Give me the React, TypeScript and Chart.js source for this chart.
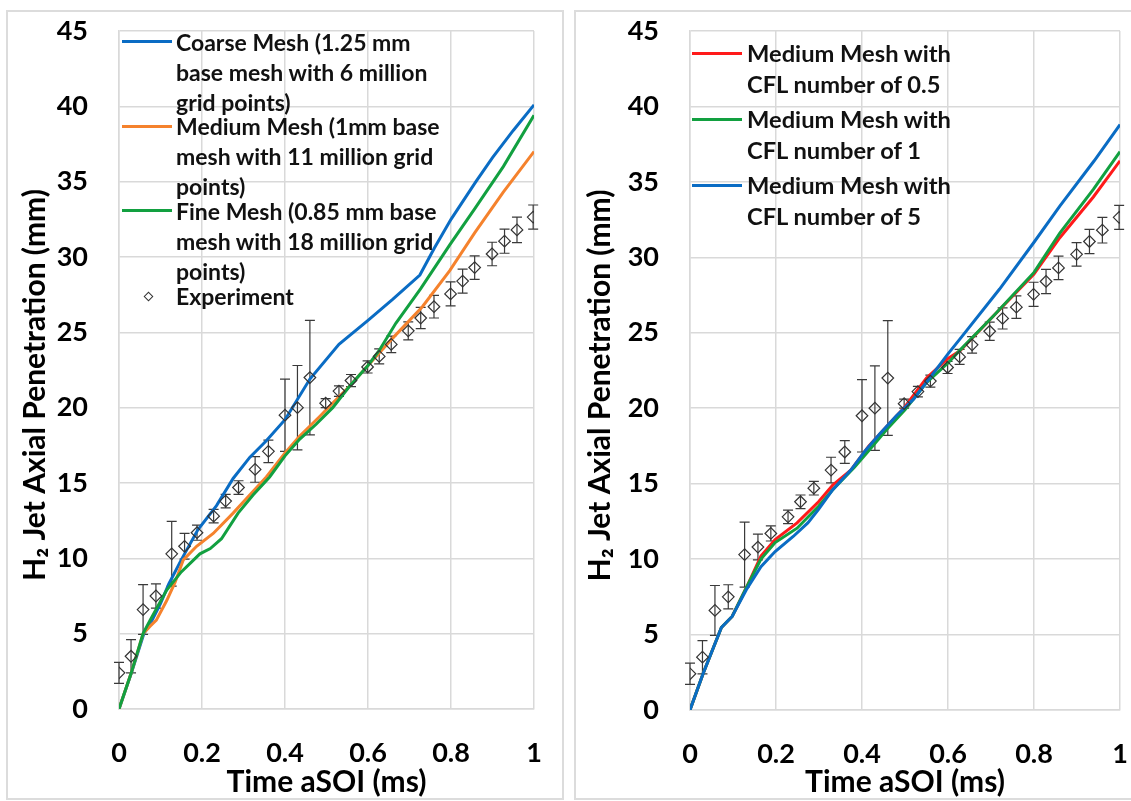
import React, { useEffect, useRef } from "react";
import { Chart, registerables } from "chart.js";
Chart.register(...registerables);

// ---------- data ----------
const expTime = [0, 0.029, 0.058, 0.089, 0.127, 0.158, 0.188, 0.228, 0.257, 0.288, 0.328, 0.36, 0.4, 0.43, 0.46, 0.498, 0.53, 0.559, 0.599, 0.627, 0.656, 0.697, 0.727, 0.759, 0.799, 0.828, 0.857, 0.899, 0.929, 0.959, 0.998];
const expPen = [2.4, 3.5, 6.6, 7.5, 10.3, 10.8, 11.7, 12.8, 13.8, 14.7, 15.9, 17.1, 19.5, 20.0, 22.0, 20.3, 21.1, 21.8, 22.7, 23.4, 24.2, 25.1, 25.95, 26.7, 27.55, 28.4, 29.3, 30.2, 31.05, 31.8, 32.65];
const expErr = [0.7, 1.1, 1.65, 0.8, 2.15, 0.85, 0.5, 0.45, 0.45, 0.45, 0.85, 0.75, 2.4, 2.8, 3.8, 0.3, 0.35, 0.4, 0.4, 0.5, 0.55, 0.6, 0.7, 0.75, 0.8, 0.8, 0.78, 0.78, 0.8, 0.85, 0.8];

const coarseTime = [0, 0.03, 0.06, 0.08, 0.1, 0.12, 0.15, 0.19, 0.235, 0.275, 0.315, 0.355, 0.4, 0.46, 0.53, 0.6, 0.66, 0.725, 0.76, 0.8, 0.86, 0.9, 0.95, 1.0];
const coarsePen = [0, 2.4, 5.0, 5.9, 7.0, 8.3, 9.9, 11.9, 13.5, 15.3, 16.7, 17.8, 19.2, 21.9, 24.2, 25.8, 27.2, 28.8, 30.6, 32.5, 35.0, 36.6, 38.4, 40.1];

const mediumTime = [0, 0.029, 0.058, 0.075, 0.09, 0.115, 0.135, 0.155, 0.187, 0.227, 0.275, 0.315, 0.355, 0.4, 0.435, 0.483, 0.515, 0.555, 0.6, 0.659, 0.731, 0.797, 0.857, 0.926, 1.0];
const mediumPen = [0, 2.35, 5.0, 5.5, 5.9, 7.2, 8.4, 9.9, 10.8, 11.65, 13.0, 14.2, 15.4, 17.0, 18.1, 19.4, 20.3, 21.4, 22.8, 24.6, 26.7, 29.1, 31.6, 34.3, 37.0];

const fineTime = [0, 0.029, 0.058, 0.075, 0.115, 0.15, 0.195, 0.22, 0.247, 0.287, 0.323, 0.363, 0.4, 0.435, 0.475, 0.515, 0.555, 0.6, 0.627, 0.667, 0.727, 0.797, 0.857, 0.926, 1.0];
const finePen = [0, 2.35, 5.0, 5.9, 7.9, 9.1, 10.3, 10.65, 11.3, 13.0, 14.2, 15.4, 16.8, 17.9, 18.9, 20.0, 21.4, 22.8, 23.8, 25.6, 27.9, 30.8, 33.2, 36.0, 39.4];

const cfl05Time = [0, 0.031, 0.073, 0.098, 0.131, 0.165, 0.198, 0.249, 0.299, 0.332, 0.374, 0.416, 0.458, 0.5, 0.55, 0.6, 0.628, 0.705, 0.8, 0.86, 0.938, 1.0];
const cfl05Pen = [0, 2.45, 5.47, 6.2, 8.1, 10.2, 11.3, 12.4, 13.8, 14.9, 15.9, 17.5, 18.8, 20.1, 22.0, 23.3, 23.8, 26.1, 28.9, 31.3, 34.0, 36.4];

const cfl1Time = [0, 0.031, 0.073, 0.098, 0.131, 0.165, 0.198, 0.249, 0.299, 0.332, 0.383, 0.416, 0.458, 0.5, 0.55, 0.6, 0.628, 0.705, 0.8, 0.86, 0.938, 1.0];
const cfl1Pen = [0, 2.45, 5.47, 6.2, 8.1, 10.0, 11.1, 12.05, 13.5, 14.6, 16.1, 17.2, 18.6, 19.9, 21.7, 23.0, 23.85, 26.1, 29.0, 31.6, 34.5, 37.0];

const cfl5Time = [0, 0.031, 0.073, 0.098, 0.131, 0.165, 0.198, 0.24, 0.274, 0.299, 0.332, 0.374, 0.408, 0.441, 0.48, 0.52, 0.56, 0.6, 0.628, 0.72, 0.8, 0.86, 0.94, 1.0];
const cfl5Pen = [0, 2.45, 5.47, 6.2, 7.97, 9.5, 10.5, 11.5, 12.4, 13.3, 14.6, 15.9, 17.2, 18.3, 19.5, 20.6, 22.1, 23.6, 24.6, 27.9, 31.0, 33.4, 36.4, 38.8];

const xTickValues = [0, 0.2, 0.4, 0.6, 0.8, 1];
const yTickValues = [0, 5, 10, 15, 20, 25, 30, 35, 40, 45];

const BLUE = "#0a6cc4";
const ORANGE = "#f5822d";
const GREEN = "#12a040";
const RED = "#ff1a1a";
const FONT = "Lato, 'Open Sans', 'DejaVu Sans', sans-serif";

function zip(xs: number[], ys: number[]) {
  return xs.map((x, i) => ({ x, y: ys[i] }));
}

function lineDs(label: string, t: number[], v: number[], color: string, order: number) {
  return {
    label,
    data: zip(t, v),
    showLine: true,
    borderColor: color,
    backgroundColor: color,
    borderWidth: 3,
    pointRadius: 0,
    tension: 0,
    order,
  };
}

function expDs(order: number) {
  return {
    label: "Experiment",
    data: zip(expTime, expPen),
    showLine: false,
    pointStyle: "rectRot",
    pointRadius: 5.8,
    borderWidth: 1.2,
    borderColor: "#333",
    backgroundColor: "rgba(0,0,0,0)",
    order,
  };
}

const errorBarPlugin = {
  id: "errorBarsCustom",
  beforeDatasetsDraw(chart: any) {
    const xs = chart.scales.x;
    const ys = chart.scales.y;
    const ctx = chart.ctx;
    ctx.save();
    ctx.strokeStyle = "#3a3a3a";
    ctx.lineWidth = 1.2;
    for (let i = 0; i < expTime.length; i++) {
      const px = xs.getPixelForValue(expTime[i]);
      const top = ys.getPixelForValue(expPen[i] + expErr[i]);
      const bot = ys.getPixelForValue(expPen[i] - expErr[i]);
      ctx.beginPath();
      ctx.moveTo(px, top);
      ctx.lineTo(px, bot);
      ctx.moveTo(px - 5, top);
      ctx.lineTo(px + 5, top);
      ctx.moveTo(px - 5, bot);
      ctx.lineTo(px + 5, bot);
      ctx.stroke();
    }
    ctx.restore();
  },
};

function makeOptions(yAxisWidth: number, xAxisHeight: number, padRight: number, yTitlePad: number) {
  const tickFont = { family: FONT, size: 27, weight: "bold" as const };
  const titleFont = { family: FONT, size: 30, weight: "bold" as const };
  return {
    responsive: false,
    animation: false as const,
    layout: { padding: { top: 31, right: padRight, left: 0, bottom: 0 } },
    plugins: { legend: { display: false }, tooltip: { enabled: false } },
    scales: {
      x: {
        type: "linear" as const,
        min: 0,
        max: 1,
        afterBuildTicks: (s: any) => {
          s.ticks = xTickValues.map((v) => ({ value: v }));
        },
        ticks: {
          font: tickFont,
          color: "#000",
          padding: 28,
          maxRotation: 0,
          callback: (v: any) => String(Math.round(Number(v) * 10) / 10),
        },
        grid: { color: "#d9d9d9", lineWidth: 1.5, drawTicks: false },
        border: { color: "#d9d9d9", width: 1.5 },
        title: {
          display: true,
          text: "Time aSOI (ms)",
          font: titleFont,
          color: "#000",
          padding: { top: 0, bottom: 1 },
        },
        afterFit: (s: any) => {
          s.height = xAxisHeight;
          s.paddingLeft = 0;
          s.paddingRight = 0;
        },
      },
      y: {
        type: "linear" as const,
        min: 0,
        max: 45,
        afterBuildTicks: (s: any) => {
          s.ticks = yTickValues.map((v) => ({ value: v }));
        },
        ticks: { font: tickFont, color: "#000", padding: 31 },
        grid: { color: "#d9d9d9", lineWidth: 1.5, drawTicks: false },
        border: { color: "#d9d9d9", width: 1.5 },
        title: {
          display: true,
          text: "H\u2082 Jet Axial Penetration (mm)\u2002\u2002",
          font: titleFont,
          color: "#000",
          padding: { top: yTitlePad, bottom: 0 },
        },
        afterFit: (s: any) => {
          s.width = yAxisWidth;
          s.paddingTop = 0;
          s.paddingBottom = 0;
        },
      },
    },
  };
}

function ChartCanvas(props: { datasets: any[]; yAxisWidth: number; xAxisHeight: number; padRight: number; yTitlePad: number; left: number }) {
  const ref = useRef<HTMLCanvasElement | null>(null);
  useEffect(() => {
    if (!ref.current) return;
    const chart = new Chart(ref.current, {
      type: "scatter",
      data: { datasets: props.datasets },
      options: makeOptions(props.yAxisWidth, props.xAxisHeight, props.padRight, props.yTitlePad) as any,
      plugins: [errorBarPlugin],
    });
    return () => chart.destroy();
  }, []);
  return (
    <canvas
      ref={ref}
      width={565}
      height={801}
      style={{ position: "absolute", left: props.left, top: 0, width: 565, height: 801 }}
    />
  );
}

const textStyle: React.CSSProperties = {
  position: "absolute",
  fontFamily: FONT,
  fontWeight: 700,
  color: "#111",
  whiteSpace: "nowrap",
};

function LegendLine(p: { x: number; w: number; y: number; color: string }) {
  return <div style={{ position: "absolute", left: p.x, top: p.y - 1.5, width: p.w, height: 3, background: p.color }} />;
}

export default function App() {
  const leftDatasets = [
    expDs(0),
    lineDs("Fine Mesh", fineTime, finePen, GREEN, 1),
    lineDs("Medium Mesh", mediumTime, mediumPen, ORANGE, 2),
    lineDs("Coarse Mesh", coarseTime, coarsePen, BLUE, 3),
  ];
  const rightDatasets = [
    expDs(0),
    lineDs("CFL 5", cfl5Time, cfl5Pen, BLUE, 1),
    lineDs("CFL 1", cfl1Time, cfl1Pen, GREEN, 2),
    lineDs("CFL 0.5", cfl05Time, cfl05Pen, RED, 3),
  ];

  const leftLegend = [
    { y: 41.7, color: BLUE, lines: ["Coarse Mesh (1.25 mm", "base mesh with 6 million", "grid points)"] },
    { y: 126.3, color: ORANGE, lines: ["Medium Mesh (1mm base", "mesh with 11 million grid", "points)"] },
    { y: 210.7, color: GREEN, lines: ["Fine Mesh (0.85 mm base", "mesh with 18 million grid", "points)"] },
  ];
  const rightLegend = [
    { y: 53.3, color: RED, lines: ["Medium Mesh with", "CFL number of 0.5"] },
    { y: 119, color: GREEN, lines: ["Medium Mesh with", "CFL number of 1"] },
    { y: 185.7, color: BLUE, lines: ["Medium Mesh with", "CFL number of 5"] },
  ];

  return (
    <div style={{ position: "absolute", left: 0, top: 0, width: 1131, height: 801, overflow: "hidden", background: "#fff" }}>
      <div style={{ position: "absolute", left: 6, top: 10, width: 558, height: 790, boxSizing: "border-box", border: "2px solid #dcdcdc" }} />
      <div style={{ position: "absolute", left: 574, top: 10, width: 557, height: 790, boxSizing: "border-box", border: "2px solid #dcdcdc", borderRight: "none" }} />
      <ChartCanvas datasets={leftDatasets} yAxisWidth={119} xAxisHeight={92} padRight={31} yTitlePad={17} left={0} />
      <ChartCanvas datasets={rightDatasets} yAxisWidth={124} xAxisHeight={91} padRight={11} yTitlePad={16} left={566} />

      {leftLegend.map((e, i) => (
        <React.Fragment key={"l" + i}>
          <LegendLine x={122} w={50} y={e.y} color={e.color} />
          <div style={{ ...textStyle, left: 176, top: e.y - 15, fontSize: 23, lineHeight: "30px" }}>
            {e.lines.map((l, j) => (
              <div key={j}>{l}</div>
            ))}
          </div>
        </React.Fragment>
      ))}
      <div
        style={{
          position: "absolute",
          left: 148 - 3.5,
          top: 296 - 3.5,
          width: 7,
          height: 7,
          boxSizing: "border-box",
          border: "1.2px solid #333",
          transform: "rotate(45deg)",
        }}
      />
      <div style={{ ...textStyle, left: 176, top: 296 - 15, fontSize: 23, lineHeight: "30px" }}>Experiment</div>

      {rightLegend.map((e, i) => (
        <React.Fragment key={"r" + i}>
          <LegendLine x={692} w={50} y={e.y} color={e.color} />
          <div style={{ ...textStyle, left: 747, top: e.y - 15.5, fontSize: 23.7, lineHeight: "31px" }}>
            {e.lines.map((l, j) => (
              <div key={j}>{l}</div>
            ))}
          </div>
        </React.Fragment>
      ))}
    </div>
  );
}
